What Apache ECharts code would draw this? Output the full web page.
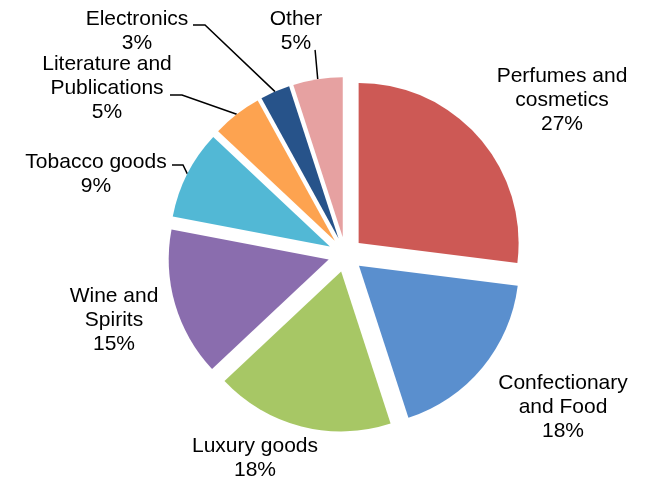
<!DOCTYPE html>
<html>
<head>
<meta charset="utf-8">
<script src="https://cdn.jsdelivr.net/npm/echarts@6/dist/echarts.min.js"></script>
<style>
  html, body { margin: 0; padding: 0; background: #fff; }
  #chart { width: 646px; height: 479px; }
</style>
</head>
<body>
<div id="chart"></div>
<script>
// Sales share by product group (percent)
const categories = [
  'Perfumes and\ncosmetics',
  'Confectionary\nand Food',
  'Luxury goods',
  'Wine and\nSpirits',
  'Tobacco goods',
  'Literature and\nPublications',
  'Electronics',
  'Other'
];
const shares = [27, 18, 18, 15, 9, 5, 3, 5];
const colors = ['#CD5955', '#5A8FCE', '#A7C765', '#8A6DAE', '#52B8D5', '#FDA350', '#27538A', '#E6A1A1'];

// Pie geometry: every slice is pulled out from the centre by GAP
const CX = 345.5, CY = 254.5, R = 160, GAP = 17.5;

// Label block centres; leader lines run from the text to the slice edge
const labelSpots = [
  { x: 562, y: 100 },
  { x: 563, y: 407 },
  { x: 255, y: 458 },
  { x: 114, y: 320 },
  { x: 96,  y: 174, from: [172, 165], elbow: [183, 165] },
  { x: 107, y: 88,  from: [170, 95],  elbow: [182, 95] },
  { x: 137, y: 31,  from: [193, 25],  elbow: [205, 25] },
  { x: 296, y: 31,  from: [315, 50],  elbow: [315.2, 51] }
];

const total = shares.reduce((a, b) => a + b, 0);
// mid angle of a slice, measured clockwise from 12 o'clock
function midAngle(i) {
  let before = 0;
  for (let k = 0; k < i; k++) before += shares[k];
  return (before + shares[i] / 2) / total * Math.PI * 2;
}
// point on the outer arc of an exploded slice at its mid angle
function sliceEdge(i) {
  const a = midAngle(i);
  return [CX + (R + GAP) * Math.sin(a), CY - (R + GAP) * Math.cos(a)];
}

const labelStyle = {
  show: true,
  position: 'outside',
  color: '#000',
  fontFamily: 'Liberation Sans, Arial, sans-serif',
  fontSize: 21,
  lineHeight: 24,
  align: 'center',
  formatter: p => p.name + '\n' + p.value + '%'
};

// one pie per slice, each centred on its own pulled-out position;
// the other slices of that pie stay invisible
const series = categories.map((_, i) => {
  const a = midAngle(i);
  return {
    type: 'pie',
    center: [CX + GAP * Math.sin(a), CY - GAP * Math.cos(a)],
    radius: R,
    startAngle: 90,
    clockwise: true,
    silent: true,
    avoidLabelOverlap: false,
    emphasis: { disabled: true },
    itemStyle: { borderWidth: 0 },
    label: labelStyle,
    labelLine: { show: false, lineStyle: { color: '#000', width: 1.5 } },
    labelLayout: params => {
      const s = labelSpots[params.dataIndex];
      const out = { x: s.x, y: s.y, align: 'center', verticalAlign: 'middle' };
      if (s.from) out.labelLinePoints = [s.from, s.elbow, sliceEdge(params.dataIndex)];
      return out;
    },
    data: categories.map((name, j) => ({
      name: name,
      value: shares[j],
      itemStyle: j === i ? { color: colors[j] } : { color: 'rgba(0,0,0,0)' },
      label: { show: j === i },
      labelLine: { show: j === i && !!labelSpots[j].from }
    }))
  };
});

const chart = echarts.init(document.getElementById('chart'), null, { renderer: 'canvas' });
chart.setOption({
  animation: false,
  backgroundColor: '#ffffff',
  series: series
});
</script>
</body>
</html>
